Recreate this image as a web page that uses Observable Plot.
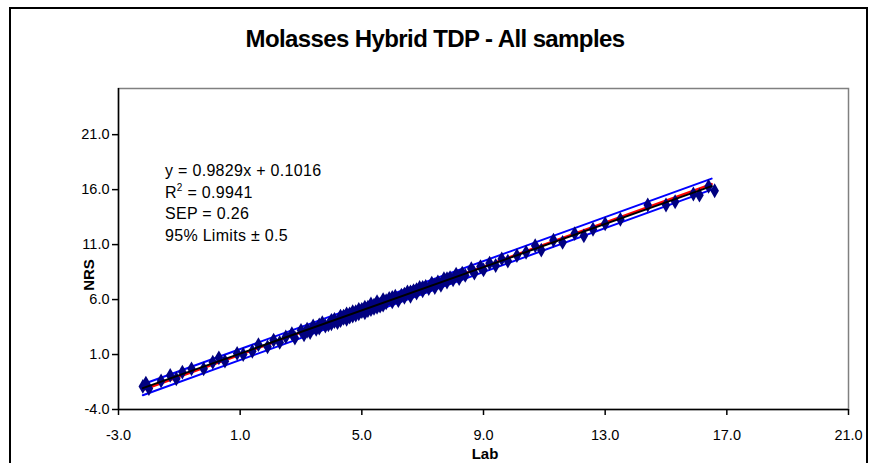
<!DOCTYPE html>
<html>
<head>
<meta charset="utf-8">
<script src="https://cdn.jsdelivr.net/npm/d3@7"></script>
<script src="https://cdn.jsdelivr.net/npm/@observablehq/plot@0.6"></script>
<style>
  html, body { margin: 0; padding: 0; background: #fff; overflow: hidden; }
  #wrap { position: relative; width: 870px; height: 463px; font-family: "Liberation Sans", Arial, sans-serif; }
  #frame { position: absolute; left: 9px; top: 7px; width: 859px; height: 480px; border: 2px solid #000; box-sizing: border-box; }
  #title { position: absolute; left: 0; width: 870px; top: 25px; text-align: center; font-weight: bold; font-size: 24px; letter-spacing: -0.6px; }
  #chart { position: absolute; left: 0; top: 0; }
  #ann { position: absolute; left: 165px; top: 160px; font-size: 16px; line-height: 21.5px; letter-spacing: 0.3px; }
  #ann sup { font-size: 10px; vertical-align: 7px; line-height: 0; }
  #ylab { position: absolute; left: 88px; top: 275px; transform: translate(-50%, -50%) rotate(-90deg); font-weight: bold; font-size: 15px; }
  #xlab { position: absolute; left: 485px; top: 446px; transform: translateX(-50%); font-weight: bold; font-size: 15px; line-height: 16px; }
</style>
</head>
<body>
<div id="wrap">
  <div id="frame"></div>
  <div id="chart"></div>
  <div id="title">Molasses Hybrid TDP - All samples</div>
  <div id="ann">
    <div>y = 0.9829x + 0.1016</div>
    <div>R<sup>2</sup> = 0.9941</div>
    <div>SEP = 0.26</div>
    <div>95% Limits ± 0.5</div>
  </div>
  <div id="ylab">NRS</div>
  <div id="xlab">Lab</div>
</div>
<script>
// Sample values (Lab, NRS)
const labValues = [
  -2.2, -2.1, -2.0, -1.6, -1.3, -1.1, -0.9, -0.6, -0.2, 0.1, 0.3, 0.5, 0.9, 1.1, 1.4, 1.6, 1.9, 2.1, 2.3, 2.5,
  2.7, 2.8, 3.0, 3.1, 3.2, 3.3, 3.4, 3.5, 3.6, 3.7, 3.8, 3.9, 4.0, 4.0, 4.1, 4.2, 4.3, 4.3, 4.4, 4.5,
  4.5, 4.6, 4.7, 4.7, 4.8, 4.9, 4.9, 5.0, 5.1, 5.1, 5.2, 5.3, 5.3, 5.4, 5.5, 5.5, 5.6, 5.7, 5.7, 5.8,
  5.9, 6.0, 6.1, 6.2, 6.3, 6.4, 6.5, 6.6, 6.7, 6.8, 6.9, 7.0, 7.1, 7.2, 7.3, 7.4, 7.5, 7.6, 7.7, 7.8,
  7.9, 8.0, 8.1, 8.2, 8.3, 8.4, 8.6, 8.7, 8.9, 9.0, 9.2, 9.4, 9.6, 9.8, 10.1, 10.4, 10.7, 10.9, 11.3, 11.6,
  12.0, 12.3, 12.6, 13.0, 13.5, 14.4, 15.0, 15.3, 15.9, 16.1, 16.4, 16.6,
  3.2, 3.6, 4.1, 4.6, 5.0, 5.4, 5.8, 6.2, 6.6, 7.0, 7.4, 7.8, 8.2, 4.4, 4.8, 5.2, 5.6, 6.0, 6.4, 6.8
];
const nrsValues = [
  -1.9, -1.6, -2.1, -1.4, -0.9, -1.2, -0.6, -0.3, -0.3, 0.3, 0.7, 0.4, 1.1, 1.0, 1.3, 1.9, 1.7, 2.3, 2.1, 2.6,
  2.9, 2.5, 3.2, 2.8, 3.3, 3.0, 3.6, 3.3, 3.4, 3.9, 3.6, 3.7, 4.1, 3.8, 4.2, 3.9, 4.5, 4.1, 4.3, 4.7,
  4.2, 4.4, 4.9, 4.5, 4.6, 5.1, 4.7, 4.9, 5.3, 4.8, 5.0, 5.6, 5.1, 5.2, 5.8, 5.3, 5.4, 6.0, 5.5, 5.7,
  6.1, 5.8, 6.3, 5.9, 6.4, 6.2, 6.7, 6.3, 6.8, 6.6, 7.1, 6.8, 7.2, 7.0, 7.5, 7.1, 7.6, 7.3, 7.9, 7.6,
  8.0, 7.8, 8.3, 7.9, 8.4, 8.2, 8.8, 8.4, 9.0, 8.7, 9.3, 9.1, 9.7, 9.5, 10.0, 10.3, 10.9, 10.5, 11.4, 11.2,
  12.0, 11.8, 12.4, 12.9, 13.3, 14.6, 14.6, 14.9, 15.6, 15.5, 16.3, 15.9,
  3.1, 3.7, 4.0, 4.7, 5.1, 5.5, 5.9, 6.1, 6.7, 7.1, 7.3, 7.9, 8.1, 4.5, 4.9, 5.3, 5.5, 6.2, 6.5, 6.9
];
// Line end points
const regX = [-2.2, 16.5];
const regY = [-2.06, 16.32];      // y = 0.9829x + 0.1016
const oneToOneY = [-2.2, 16.5];   // 1:1 line
const upperY = [-1.7, 17.0];      // +0.5 limit
const lowerY = [-2.7, 16.0];      // -0.5 limit
const xTicks = [-3, 1, 5, 9, 13, 17, 21];
const yTicks = [-4, 1, 6, 11, 16, 21];

const points = labValues.map((x, i) => ({x, y: nrsValues[i]}));
const mk = (ys) => regX.map((x, i) => ({x, y: ys[i]}));

const chart = Plot.plot({
  width: 870,
  height: 463,
  marginLeft: 118,
  marginRight: 22,
  marginTop: 88,
  marginBottom: 54,
  style: {fontFamily: "'Liberation Sans', Arial, sans-serif", fontSize: "14.5px", color: "#000", background: "transparent", overflow: "visible"},
  x: {domain: [-3, 21]},
  y: {domain: [-4, 25.2]},
  marks: [
    Plot.frame({stroke: "#808080", strokeWidth: 1.5}),
    Plot.ruleX([-3], {stroke: "#000", strokeWidth: 1.5}),
    Plot.ruleY([-4], {stroke: "#000", strokeWidth: 1.5}),
    Plot.axisX({ticks: xTicks, tickFormat: d => d.toFixed(1), tickSize: 6, tickPadding: 14, label: null, stroke: "#000", strokeWidth: 1.5}),
    Plot.axisY({ticks: yTicks, tickFormat: d => d.toFixed(1), tickSize: 6, tickPadding: 3, label: null, stroke: "#000", strokeWidth: 1.5}),
    Plot.line(mk(upperY), {x: "x", y: "y", stroke: "#0000ff", strokeWidth: 2}),
    Plot.line(mk(lowerY), {x: "x", y: "y", stroke: "#0000ff", strokeWidth: 2}),
    Plot.line(mk(oneToOneY), {x: "x", y: "y", stroke: "#ff0000", strokeWidth: 2.5}),
    Plot.dot(points, {x: "x", y: "y", symbol: "diamond", r: 4.5, fill: "#000080", stroke: "none"}),
    Plot.line(mk(regY), {x: "x", y: "y", stroke: "#000", strokeWidth: 2})
  ]
});
document.getElementById("chart").appendChild(chart);
</script>
</body>
</html>
